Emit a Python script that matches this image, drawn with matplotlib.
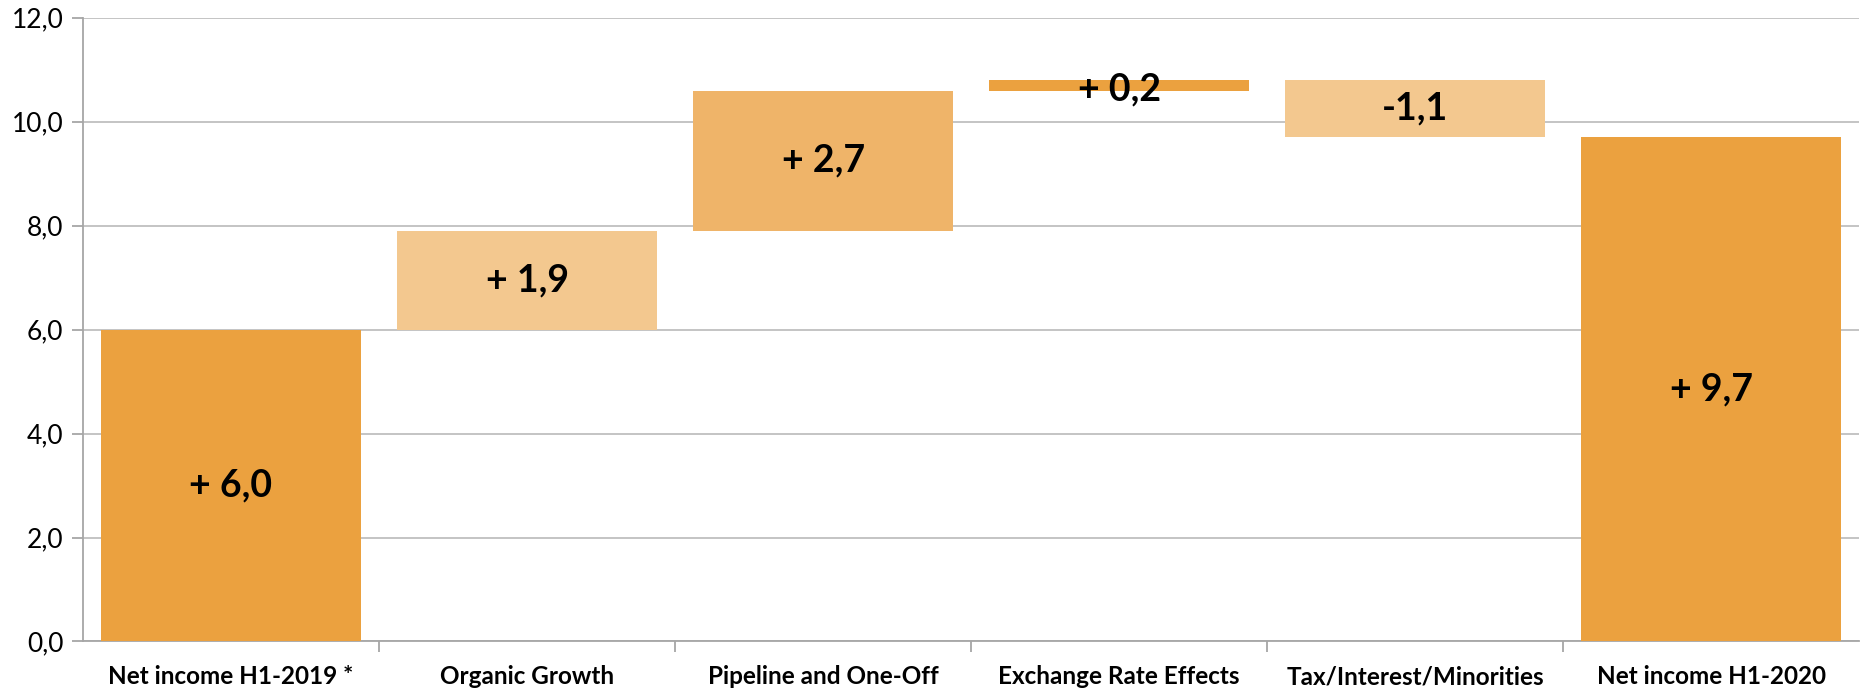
import matplotlib.pyplot as plt
import numpy as np

categories = ['Net income H1-2019 *', 'Organic Growth', 'Pipeline and One-Off',
              'Exchange Rate Effects', 'Tax/Interest/Minorities', 'Net income H1-2020']
changes = [6.0, 1.9, 2.7, 0.2, -1.1, 9.7]
is_total = [True, False, False, False, False, True]
labels = ['+ 6,0', '+ 1,9', '+ 2,7', '+ 0,2', '-1,1', '+ 9,7']
colors = ['#EBA13F', '#F3C88F', '#EFB469', '#EBA13F', '#F3C88F', '#EBA13F']

# running bottoms for the waterfall
bottoms = []
heights = []
level = 0.0
for val, tot in zip(changes, is_total):
    if tot:
        bottoms.append(0.0)
        heights.append(val)
        level = val
    else:
        if val >= 0:
            bottoms.append(level)
        else:
            bottoms.append(level + val)
        heights.append(abs(val))
        level += val

plt.rcParams['font.family'] = ['Lato', 'DejaVu Sans']

fig = plt.figure(figsize=(18.6, 6.9), dpi=100)
ax = fig.add_axes([0.0446, 0.0703, 0.955, 0.904])

x = np.arange(len(categories))
ax.bar(x, heights, bottom=bottoms, width=0.88, color=colors, zorder=3)

for xi, b, h, lab in zip(x, bottoms, heights, labels):
    ax.text(xi, b + h / 2 - (0.08 if h < 0.5 else 0), lab, ha='center', va='center',
            fontsize=27, fontweight='bold', color='black', zorder=4)

ax.set_xlim(-0.5, len(categories) - 0.5)
ax.set_ylim(0, 12)
ax.set_yticks(np.arange(0, 12.1, 2))
ax.set_yticklabels([f'{v:.1f}'.replace('.', ',') for v in np.arange(0, 12.1, 2)], fontsize=19)
ax.yaxis.grid(True, color='#BFBFBF', linewidth=1.3, zorder=0)

ax.set_xticks(x)
ax.set_xticklabels(categories, fontsize=17.5, fontweight='bold')
ax.set_xticks(np.arange(0.5, len(categories) - 0.5, 1), minor=True)
ax.tick_params(axis='x', which='major', length=0, pad=17)
ax.tick_params(axis='x', which='minor', length=8, color='#A6A6A6', width=1.3)
ax.tick_params(axis='y', length=8, color='#A6A6A6', width=1.3, pad=6)

for side in ['top', 'right']:
    ax.spines[side].set_visible(False)
for side in ['left', 'bottom']:
    ax.spines[side].set_color('#A6A6A6')
    ax.spines[side].set_linewidth(1.3)

fig.savefig('out.png', dpi=100)
